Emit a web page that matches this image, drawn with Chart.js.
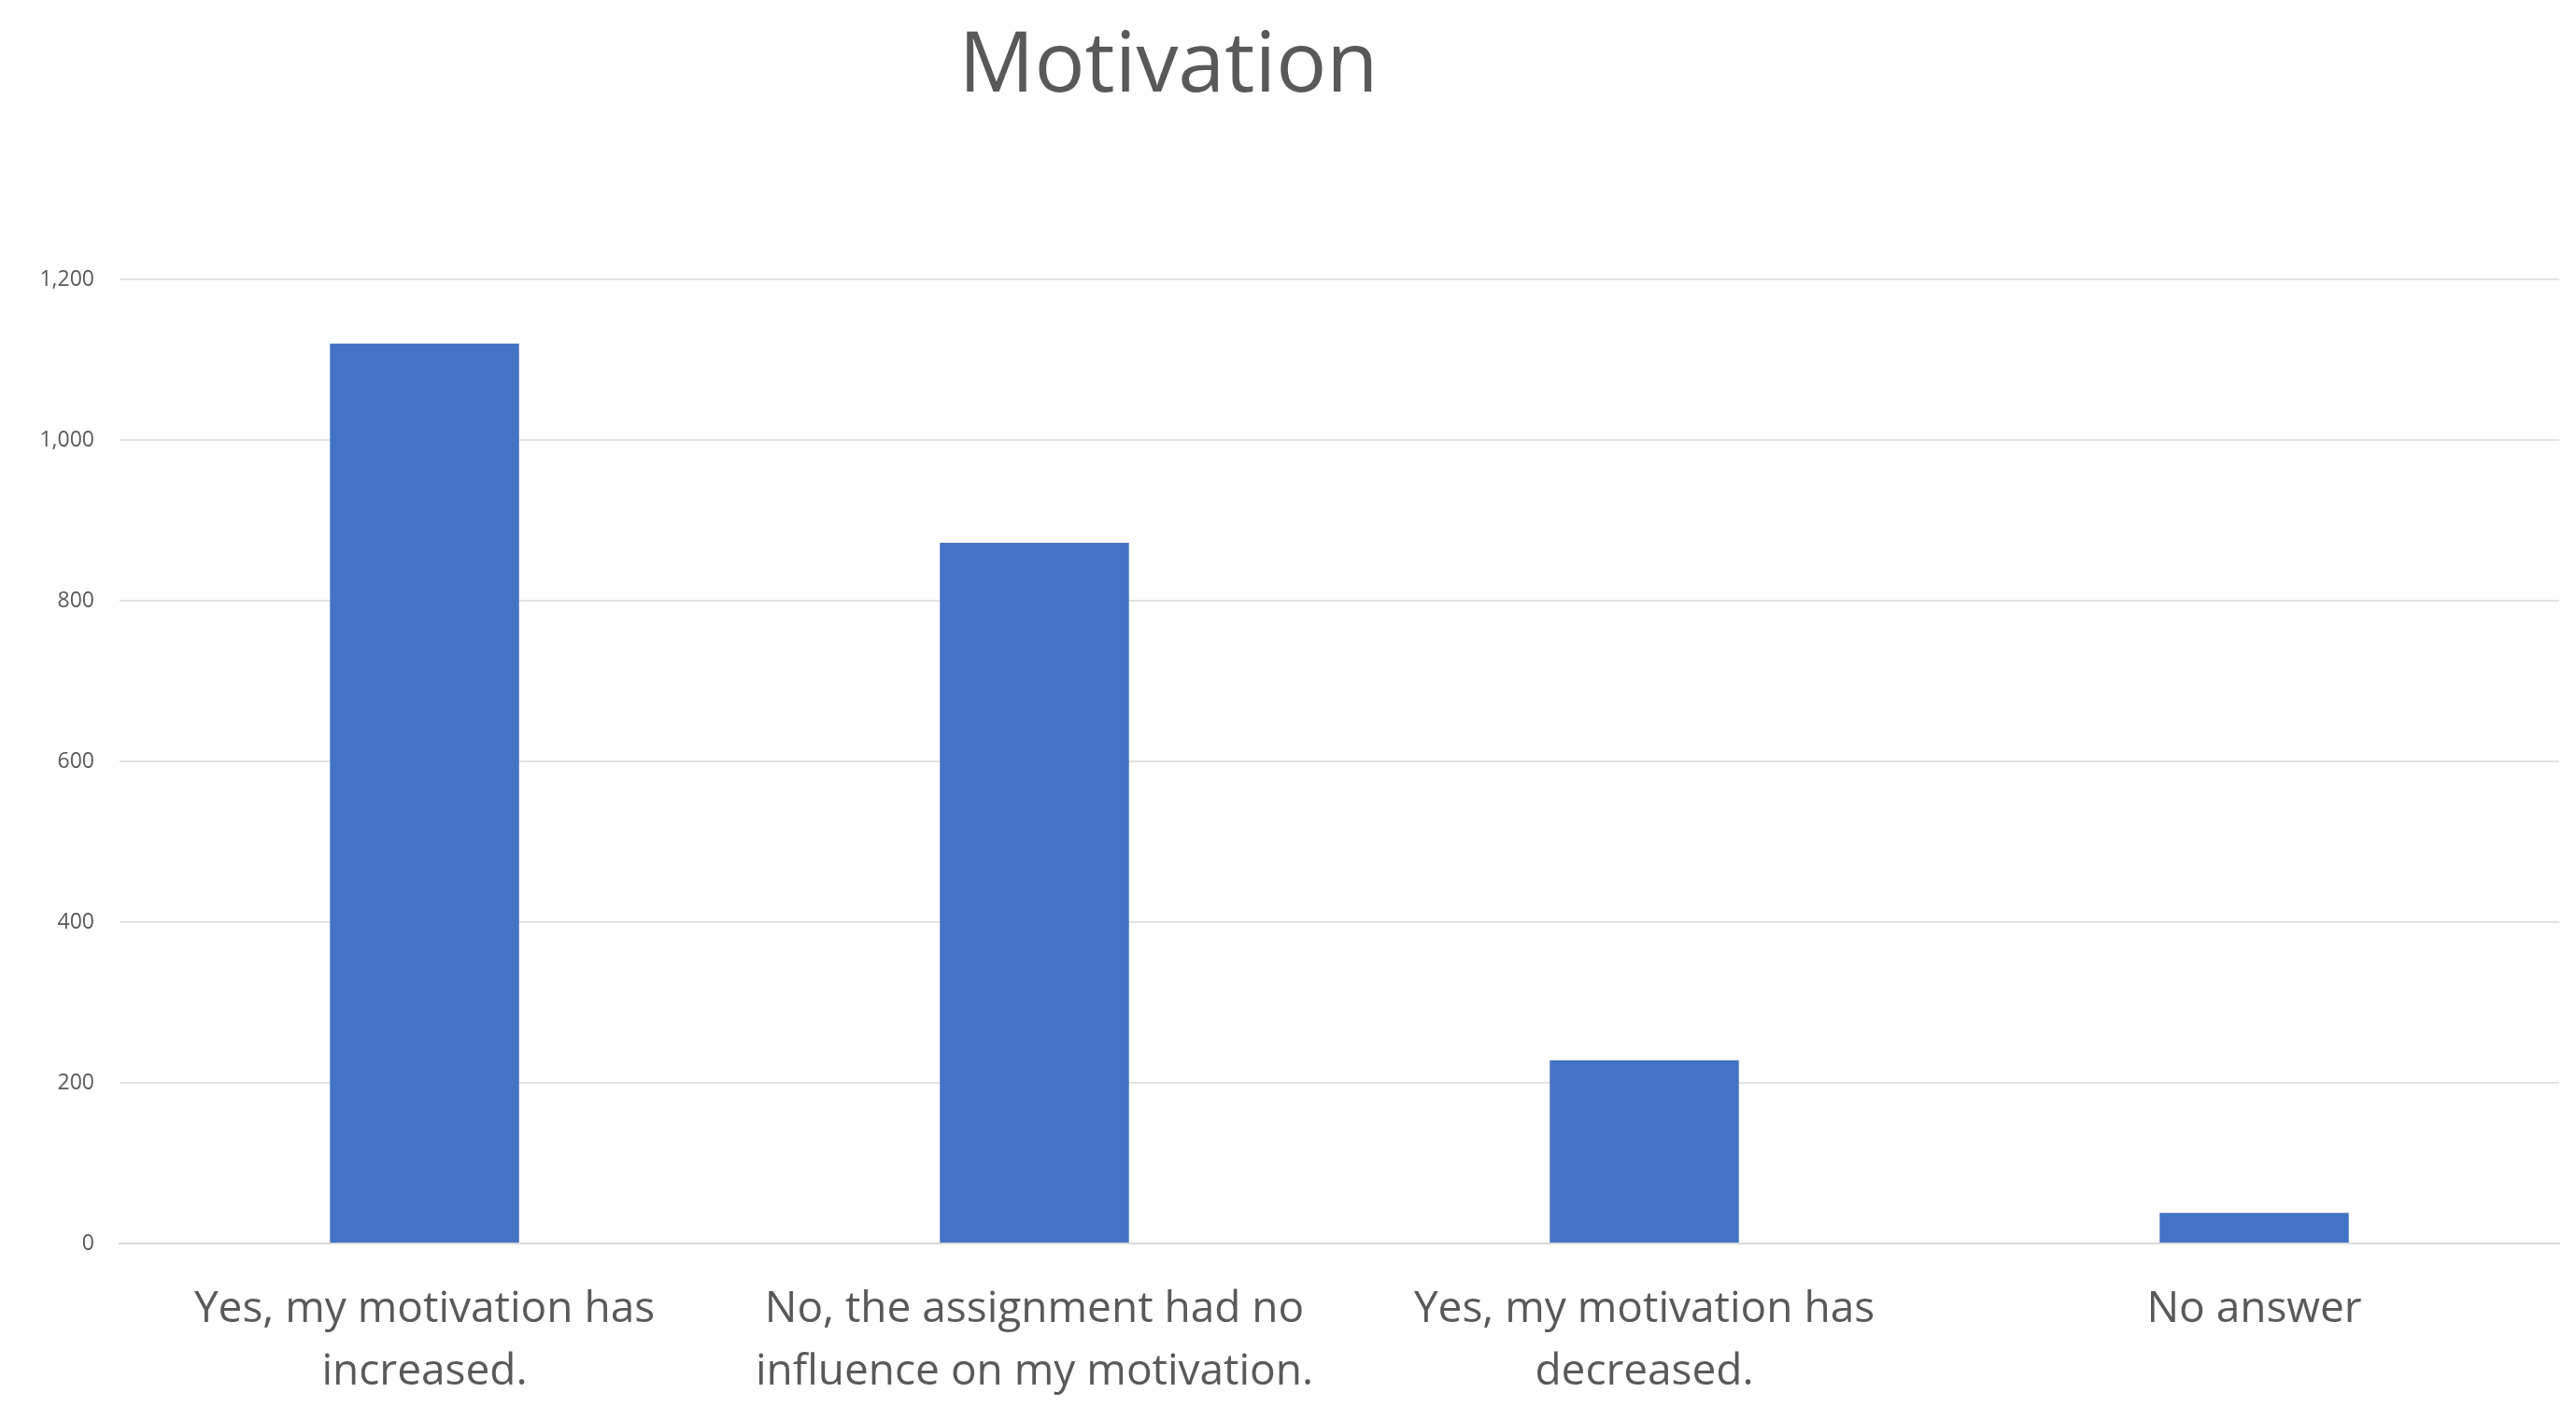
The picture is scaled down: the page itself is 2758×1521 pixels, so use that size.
<!DOCTYPE html>
<html><head><meta charset="utf-8">
<script src="https://cdn.jsdelivr.net/npm/chart.js@4/dist/chart.umd.min.js"></script>
<style>html,body{margin:0;padding:0;background:#fff}#c{display:block}</style>
</head><body>
<div style="width:2758px;height:1521px"><canvas id="c"></canvas></div>
<script>
const categories = [
  ["Yes, my motivation has", "increased."],
  ["No, the assignment had no", "influence on my motivation."],
  ["Yes, my motivation has", "decreased."],
  ["No answer"]
];
const values = [1120, 872, 228, 38];
const titleText = "Motivation";

const titlePlugin = {
  id: 'customTitle',
  afterDraw(chart) {
    const ctx = chart.ctx;
    ctx.save();
    ctx.font = '90px "Open Sans", "Liberation Sans", sans-serif';
    ctx.fillStyle = '#595959';
    ctx.textAlign = 'center';
    ctx.textBaseline = 'middle';
    ctx.fillText(titleText, 1251, 72);
    ctx.restore();
  }
};

new Chart(document.getElementById('c'), {
  type: 'bar',
  data: { labels: categories, datasets: [{ data: values, backgroundColor: '#4472C4', barPercentage: 0.31, categoryPercentage: 1 }] },
  options: {
    responsive: true, maintainAspectRatio: false, animation: false,
    layout: { padding: { top: 299, right: 18, left: 0, bottom: 0 } },
    plugins: { legend: { display: false }, tooltip: { enabled: false } },
    scales: {
      x: {
        grid: { display: false },
        border: { color: '#d9d9d9', width: 2 },
        ticks: { color: '#595959', font: { size: 46, family: '"Open Sans", "Liberation Sans", sans-serif', lineHeight: 1.45 }, padding: 30, maxRotation: 0, autoSkip: false },
        afterFit(s) { s.height = 190; }
      },
      y: {
        min: 0, max: 1200,
        ticks: { stepSize: 200, color: '#595959', font: { size: 23, family: '"Open Sans", "Liberation Sans", sans-serif' }, padding: 27 },
        grid: { color: '#e3e3e3', lineWidth: 2, drawTicks: false },
        border: { display: false },
        afterFit(s) { s.width = 128; }
      }
    }
  },
  plugins: [titlePlugin]
});
</script>
</body></html>
